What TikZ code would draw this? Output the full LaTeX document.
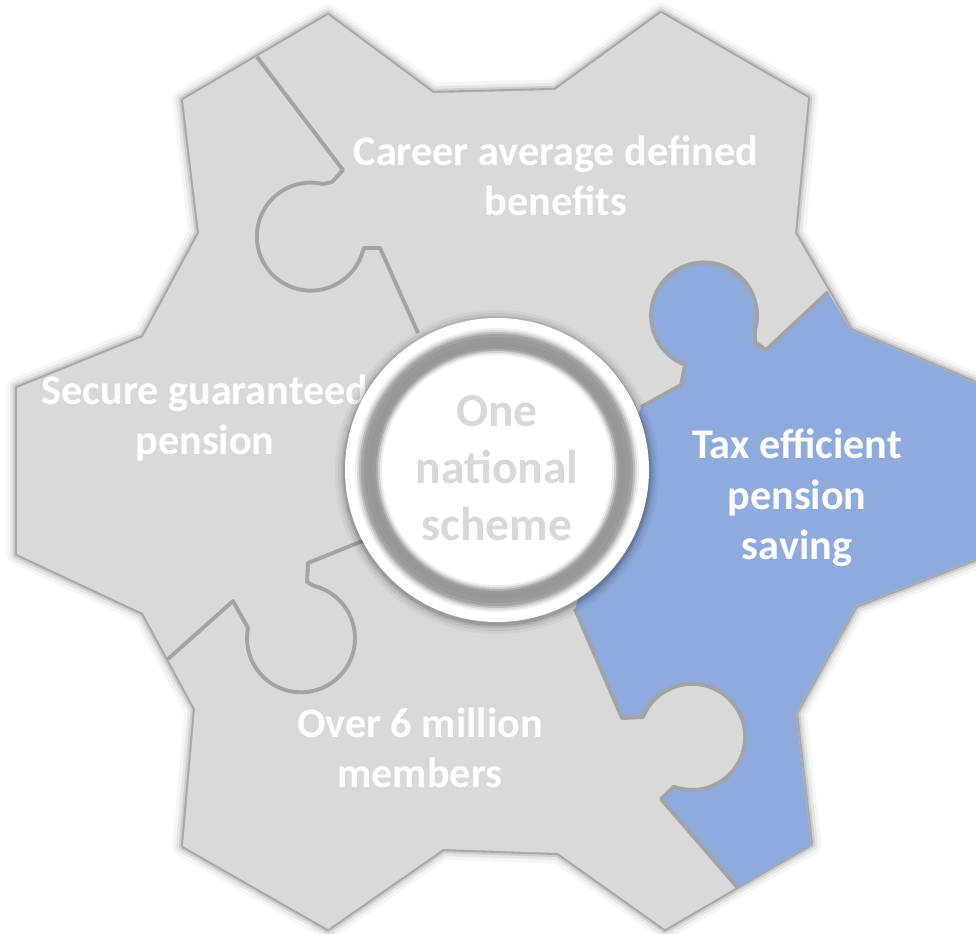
\documentclass[tikz,border=0pt]{standalone}
\usepackage{fontspec}
\setmainfont{Carlito}
\usepackage{tikz}
\usepackage{xcolor}
\definecolor{piecegray}{HTML}{D9D9D9}
\definecolor{pieceblue}{HTML}{8FAADC}

\def\gearoutline{(17,388) -- (143,337) -- (199,233) -- (183,100) -- (328,15) -- (433,93) -- (555,90) -- (661,13) -- (808,98) -- (795,233) -- (851,330) -- (976,383) -- (976,559) -- (856,606) -- (796,713) -- (811,844) -- (665,929) -- (558,853) -- (443,849) -- (328,929) -- (183,846) -- (195,709) -- (143,613) -- (17,554) -- cycle}

\tikzset{
  seam/.style={draw=black!36,line width=1.1pt,line join=round},
  piecetext/.style={text=white,align=center,font=\fontsize{12}{14.3}\selectfont\bfseries},
  hubtext/.style={text=piecegray,align=center,font=\fontsize{13.5}{16.2}\selectfont\bfseries}
}

\begin{document}
\begin{tikzpicture}[x=0.01cm,y=-0.01cm,line join=round]
\useasboundingbox (0,0) rectangle (976,933);
\fill[white] (0,0) rectangle (976,933);

% soft edge round the whole gear, then the flat grey pieces
\foreach \w/\o in {6pt/0.04,4pt/0.06,2.4pt/0.1,1.2pt/0.18}
  \draw[black,opacity=\o,line width=\w] \gearoutline;
\fill[piecegray] \gearoutline;

% blue piece with its knob into the top piece
\fill[pieceblue] (828,292) -- (851,330) -- (976,383) -- (976,559) -- (856,606) -- (796,713) -- (811,844) -- (738,888)
  -- (661,799) -- (673,788) arc[start angle=110,end angle=-158,radius=53] -- (622,718) -- (575,609)
  -- (641,407) -- (681,385) -- (685,366) arc[start angle=-249,end angle=16,radius=53] -- (755,342) -- (766,350) -- cycle;

% seams between the pieces
\draw[seam] (257,57) -- (343,170) -- (332,182) -- (323,184) arc[start angle=-77,end angle=-338,radius=54] -- (364,248) -- (380,248) -- (418,333);
\draw[seam] (828,292) -- (766,350) -- (755,342) -- (755,330) arc[start angle=16,end angle=-249,radius=53] -- (681,385) -- (641,407);
\draw[seam] (575,609) -- (622,718) -- (643,717) arc[start angle=-158,end angle=110,radius=53] -- (661,799) -- (738,888);
\draw[seam] (168,659) -- (233,601) -- (248,628) arc[start angle=191,end angle=-76,radius=54] -- (307,582) -- (308,563) -- (375,536);

\node[piecetext] (career) at (556,176) {Career average defined\\benefits};
\node[piecetext] (secure) at (205,418) {Secure guaranteed\\pension};
\node[piecetext] (members) at (420,748) {Over 6 million\\members};
\node[piecetext] (tax) at (797,498) {Tax efficient\\pension\\saving};

% hub: white rim, grey ring, white face
\foreach \r/\o in {162/0.04,159/0.06,156/0.09,154/0.12}
  \fill[black,opacity=\o] (497,472) circle (\r);
\fill[white] (497,470) circle (152);
\foreach \r/\g in {142/6,140/14,138/26,136/36,133/40,128/41,124/40,121/32,119/18,117/7}
  \fill[black!\g] (497,470) circle (\r);
\fill[white] (497,470) circle (115);
\node[hubtext] (hub) at (497,468) {One\\national\\scheme};
\end{tikzpicture}
\end{document}
